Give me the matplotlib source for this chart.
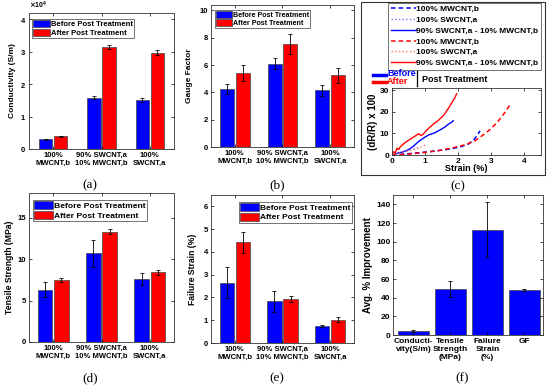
import matplotlib.pyplot as plt
from matplotlib.patches import Patch, Rectangle
from matplotlib.lines import Line2D
import numpy as np

plt.rcParams['font.family'] = ['Liberation Sans', 'DejaVu Sans']
plt.rcParams['font.weight'] = 'bold'
plt.rcParams['axes.labelweight'] = 'bold'
plt.rcParams['axes.linewidth'] = 0.6

W, H = 550, 388
BLUE = '#0000ff'
RED = '#ff0000'

groups = ["100%\nMWCNT,b", "90% SWCNT,a\n10% MWCNT,b", "100%\nSWCNT,a"]

# (a) conductivity, S/m
cond_before = [3000, 15800, 15200]
cond_before_err = [200, 500, 600]
cond_after = [3900, 31500, 29800]
cond_after_err = [250, 600, 700]

# (b) gauge factor
gf_before = [4.25, 6.1, 4.15]
gf_before_err = [0.35, 0.4, 0.42]
gf_after = [5.45, 7.55, 5.25]
gf_after_err = [0.58, 0.75, 0.53]

# (d) tensile strength, MPa
ts_before = [6.3, 10.7, 7.6]
ts_before_err = [0.9, 1.65, 0.7]
ts_after = [7.5, 13.3, 8.4]
ts_after_err = [0.2, 0.3, 0.3]

# (e) failure strain, %
fs_before = [2.65, 1.83, 0.75]
fs_before_err = [0.68, 0.45, 0.04]
fs_after = [4.42, 1.92, 1.03]
fs_after_err = [0.45, 0.13, 0.12]

# (f) average improvement
imp_labels = ["Conducti-\nvity(S/m)", "Tensile\nStrength\n(MPa)", "Failure\nStrain\n(%)", "GF"]
imp_vals = [4.5, 49.5, 113, 48]
imp_err = [1.2, 8.5, 29, 0.8]

# (c) strain curves (strain %, dR/R x 100)
mw_before_x = [0, 0.4, 0.8, 1.2, 1.6, 2.0, 2.3, 2.5, 2.66]
mw_before_y = [0, 0.5, 1.0, 1.7, 2.4, 3.5, 5.0, 7.5, 11.2]
sw_before_x = [0, 0.2, 0.4, 0.6, 0.75, 0.85]
sw_before_y = [0, 0.8, 1.8, 2.5, 3.0, 3.4]
mix_before_x = [0, 0.1, 0.2, 0.3, 0.4, 0.5, 0.6, 0.7, 0.8, 0.9, 1.0, 1.1, 1.2, 1.3, 1.4, 1.5, 1.6, 1.7, 1.8, 1.85]
mix_before_y = [0, 0.5, 1.0, 1.3, 1.8, 2.5, 3.5, 4.8, 6.2, 7.3, 8.3, 9.2, 9.8, 10.3, 11.2, 12.0, 13.0, 14.2, 15.2, 15.9]
mw_after_x = [0, 0.5, 1.0, 1.4, 1.8, 2.2, 2.5, 2.8, 3.0, 3.2, 3.4, 3.55]
mw_after_y = [0, 0.4, 1.2, 2.0, 3.2, 4.7, 6.5, 9.8, 12.3, 15.5, 19.5, 23.0]
sw_after_x = [0, 0.2, 0.4, 0.6, 0.8, 0.95, 1.05]
sw_after_y = [0, 0.8, 1.6, 2.4, 3.3, 4.2, 5.0]
mix_after_x = [0, 0.05, 0.1, 0.15, 0.2, 0.25, 0.3, 0.4, 0.5, 0.6, 0.7, 0.8, 0.88, 0.95, 1.05, 1.15, 1.25, 1.4, 1.55, 1.7, 1.8, 1.9, 1.95]
mix_after_y = [0, 1.5, 1.0, 3.2, 2.5, 3.8, 4.5, 5.8, 6.8, 7.8, 8.8, 9.8, 9.0, 9.8, 11.5, 13.0, 14.3, 16.0, 18.2, 21.5, 24.0, 26.5, 28.3]

fig = plt.figure(figsize=(W / 100, H / 100), dpi=100)


def px_axes(l, t, r, b):
    return fig.add_axes([l / W, 1 - b / H, (r - l) / W, (b - t) / H])


def style(ax, fs=5.5):
    ax.tick_params(direction='in', top=True, right=True, length=2, width=0.5,
                   labelsize=fs, pad=2)
    for s in ax.spines.values():
        s.set_color('#333333')


err_kw = dict(ecolor='black', elinewidth=0.6, capsize=1.5, capthick=0.6)


def grouped(ax, before, berr, after, aerr, width, off):
    x = np.arange(1, 4)
    ax.bar(x - off, before, width, yerr=berr, color=BLUE, edgecolor='#444444',
           linewidth=0.5, error_kw=err_kw)
    ax.bar(x + off, after, width, yerr=aerr, color=RED, edgecolor='#444444',
           linewidth=0.5, error_kw=err_kw)
    ax.set_xlim(0.5, 3.5)
    ax.set_xticks(x)
    ax.set_xticklabels(groups)
    style(ax)


def bar_legend(ax, x0, y0, fs):
    handles = [Patch(facecolor=BLUE, edgecolor='#444444', linewidth=0.5),
               Patch(facecolor=RED, edgecolor='#444444', linewidth=0.5)]
    leg = ax.legend(handles, ['Before Post Treatment', 'After Post Treatment'],
                    loc='upper left', bbox_to_anchor=(x0 / W, 1 - y0 / H),
                    bbox_transform=fig.transFigure, fontsize=fs, frameon=True,
                    fancybox=False, edgecolor='#333333', borderpad=0.15,
                    labelspacing=0.05, handlelength=2.2, handleheight=1.1,
                    handletextpad=0.15, borderaxespad=0)
    leg.get_frame().set_linewidth(0.6)


# (a)
ax_a = px_axes(29, 13, 174, 149)
grouped(ax_a, cond_before, cond_before_err, cond_after, cond_after_err, 0.27, 0.155)
ax_a.set_ylim(0, 42000)
ax_a.set_yticks([0, 10000, 20000, 30000, 40000])
ax_a.ticklabel_format(axis='y', style='sci', scilimits=(4, 4), useMathText=True)
ax_a.yaxis.get_offset_text().set_fontsize(5)
ax_a.set_ylabel('Conductivity (S/m)', fontsize=6, labelpad=3)
bar_legend(ax_a, 32, 19, 5.5)

# (b)
ax_b = px_axes(211, 5, 354, 147)
grouped(ax_b, gf_before, gf_before_err, gf_after, gf_after_err, 0.29, 0.165)
ax_b.set_ylim(0, 10.4)
ax_b.set_yticks([0, 2, 4, 6, 8, 10])
ax_b.set_ylabel('Gauge Factor', fontsize=6, labelpad=5)
bar_legend(ax_b, 215, 10, 5.1)

# (d)
ax_d = px_axes(29, 193, 174, 342)
grouped(ax_d, ts_before, ts_before_err, ts_after, ts_after_err, 0.3, 0.17)
ax_d.set_ylim(0, 18)
ax_d.set_yticks([0, 5, 10, 15])
ax_d.set_ylabel('Tensile Strength (MPa)', fontsize=6.2, labelpad=3)
bar_legend(ax_d, 33, 200, 6.1)

# (e)
ax_e = px_axes(211, 195, 354, 343)
grouped(ax_e, fs_before, fs_before_err, fs_after, fs_after_err, 0.3, 0.17)
ax_e.set_ylim(0, 6.5)
ax_e.set_yticks([0, 1, 2, 3, 4, 5, 6])
ax_e.set_ylabel('Failure Strain (%)', fontsize=6.2, labelpad=5)
bar_legend(ax_e, 239, 202, 6.0)

# (f)
ax_f = px_axes(393, 195, 543, 335)
xf = np.arange(1, 5)
ax_f.bar(xf, imp_vals, 0.82, yerr=imp_err, color=BLUE, edgecolor='#444444',
         linewidth=0.5, error_kw=err_kw)
ax_f.set_xlim(0.45, 4.5)
ax_f.set_ylim(0, 150)
ax_f.set_yticks(range(0, 141, 20))
ax_f.set_xticks(xf)
ax_f.set_xticklabels(imp_labels)
style(ax_f, 6)
ax_f.set_ylabel('Avg. % Improvement', fontsize=7, labelpad=2)

# (c)
ax_c = px_axes(392, 88, 541, 155)
ax_c.plot(mw_before_x, mw_before_y, color=BLUE, ls=(0, (3, 2)), lw=1.1)
ax_c.plot(sw_before_x, sw_before_y, color='#7070ff', ls=':', lw=1.0)
ax_c.plot(mix_before_x, mix_before_y, color=BLUE, ls='-', lw=1.0)
ax_c.plot(mw_after_x, mw_after_y, color=RED, ls=(0, (3, 2)), lw=1.1)
ax_c.plot(sw_after_x, sw_after_y, color='#ff7070', ls=':', lw=1.0)
ax_c.plot(mix_after_x, mix_after_y, color=RED, ls='-', lw=1.0)
ax_c.set_xlim(0, 4.5)
ax_c.set_ylim(0, 31)
ax_c.set_xticks([0, 1, 2, 3, 4])
ax_c.set_yticks([0, 10, 20, 30])
style(ax_c, 6)
ax_c.set_xlabel('Strain (%)', fontsize=6.5, labelpad=-0.5)
ax_c.set_ylabel('(dR/R) x 100', fontsize=7, labelpad=1)

c_handles = [Line2D([], [], color=BLUE, ls=(0, (3, 2)), lw=1.1),
             Line2D([], [], color='#7070ff', ls=':', lw=1.0),
             Line2D([], [], color=BLUE, lw=1.0),
             Line2D([], [], color=RED, ls=(0, (3, 2)), lw=1.1),
             Line2D([], [], color='#ff7070', ls=':', lw=1.0),
             Line2D([], [], color=RED, lw=1.0)]
c_labels = ['100% MWCNT,b', '100% SWCNT,a', '90% SWCNT,a - 10% MWCNT,b',
            '100% MWCNT,b', '100% SWCNT,a', '90% SWCNT,a - 10% MWCNT,b']
leg_c = ax_c.legend(c_handles, c_labels, loc='upper left',
                    bbox_to_anchor=(388 / W, 1 - 3 / H), bbox_transform=fig.transFigure,
                    fontsize=6, fancybox=False, edgecolor='#333333', borderpad=0.3,
                    labelspacing=0.35, handlelength=3.0, handletextpad=0.1,
                    borderaxespad=0)
leg_c.get_frame().set_linewidth(0.6)

fig.patches.append(Rectangle((361 / W, 1 - 175 / H), (545 - 361) / W, (175 - 2) / H,
                             transform=fig.transFigure, fill=False, lw=0.8,
                             edgecolor='#333333'))
fig.lines.append(Line2D([373 / W, 386 / W], [1 - 75 / H, 1 - 75 / H], color=BLUE, lw=2.5,
                        transform=fig.transFigure))
fig.lines.append(Line2D([373 / W, 386 / W], [1 - 81.5 / H, 1 - 81.5 / H], color=RED, lw=2.5,
                        transform=fig.transFigure))
fig.lines.append(Line2D([417 / W, 417 / W], [1 - 71 / H, 1 - 86 / H], color='black', lw=0.9,
                        transform=fig.transFigure))
fig.text(387 / W, 1 - 74 / H, 'Before', color=BLUE, fontsize=6.5, va='center')
fig.text(387 / W, 1 - 82 / H, 'After', color=RED, fontsize=6.5, va='center')
fig.text(422 / W, 1 - 80 / H, 'Post Treatment', color='black', fontsize=6.5, va='center')

# panel letters
for lab, px, py in [('(a)', 90, 185), ('(b)', 277, 185), ('(c)', 458, 186),
                    ('(d)', 90, 378), ('(e)', 277, 378), ('(f)', 462, 378)]:
    fig.text(px / W, 1 - py / H, lab, fontsize=9.5, family='Liberation Serif',
             weight='normal', ha='center', va='center')

fig.savefig('out.png', dpi=100)
